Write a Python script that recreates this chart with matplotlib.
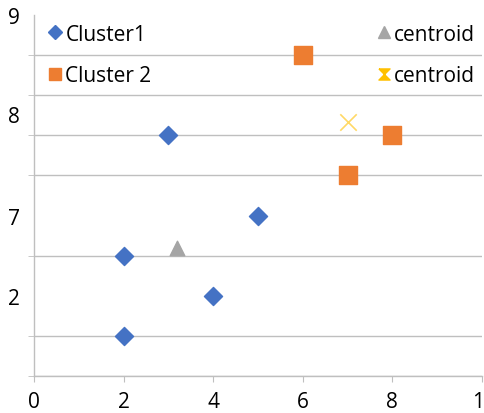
import matplotlib.pyplot as plt
from matplotlib.lines import Line2D
from matplotlib.transforms import ScaledTranslation

# ----------------------------
# Data
# ----------------------------
cluster1_x = [3, 5, 2, 4, 2]
cluster1_y = [6, 4, 3, 2, 1]

cluster2_x = [6, 8, 7]
cluster2_y = [8, 6, 5]

centroid1_x = [3.2]
centroid1_y = [3.2]
centroid2_x = [7]
centroid2_y = [6.33]

x_ticks = [0, 2, 4, 6, 8, 10]
x_labels = ['0', '2', '4', '6', '8', '1']
y_ticks = [2, 4, 6.53, 9]
y_labels = ['2', '7', '8', '9']
y_grid = list(range(0, 10))

# ----------------------------
# Style
# ----------------------------
plt.rcParams['font.family'] = ['Open Sans', 'DejaVu Sans']

blue = '#4472C4'
orange = '#ED7D31'
gray = '#A5A5A5'
yellow = '#FFC000'
grid_col = '#BFBFBF'

fig = plt.figure(figsize=(4.84, 4.14), dpi=100)
ax = fig.add_axes([34 / 484, 37 / 414, 448 / 484, 361 / 414])

ax.scatter(cluster1_x, cluster1_y, marker='D', s=85, color=blue, zorder=3)
ax.scatter(cluster2_x, cluster2_y, marker='s', s=150, color=orange, zorder=3)
ax.scatter(centroid1_x, centroid1_y, marker='^', s=110, color=gray, zorder=3)
ax.scatter(centroid2_x, centroid2_y, marker='x', s=140, color=yellow,
           alpha=0.6, linewidths=1.2, zorder=3)

ax.set_xlim(0, 10)
ax.set_ylim(0, 9)

ax.set_xticks(x_ticks)
ax.set_xticklabels(x_labels, fontsize=15)
ax.set_yticks(y_ticks)
ax.set_yticklabels(y_labels, fontsize=15)
ax.set_yticks(y_grid, minor=True)

ax.tick_params(axis='x', length=4, color=grid_col, pad=6.5)
ax.tick_params(axis='y', which='major', length=0, pad=10)
ax.tick_params(axis='y', which='minor', length=4, color=grid_col)
ax.grid(axis='y', which='minor', color=grid_col, linewidth=1)

# last x label sits at the right edge, nudge it inwards a little
last = ax.get_xticklabels()[-1]
last.set_transform(last.get_transform() +
                   ScaledTranslation(-4 / 100, 0, fig.dpi_scale_trans))

for side in ['top', 'right']:
    ax.spines[side].set_visible(False)
for side in ['left', 'bottom']:
    ax.spines[side].set_color(grid_col)
    ax.spines[side].set_linewidth(1)

# ----------------------------
# Legend
# ----------------------------
hourglass = [(-1, 1), (1, 1), (-1, -1), (1, -1), (-1, 1)]
handles = [
    Line2D([], [], marker='D', color=blue, ls='', markersize=7),
    Line2D([], [], marker='s', color=orange, ls='', markersize=9),
    Line2D([], [], marker='^', color=gray, ls='', markersize=9),
    Line2D([], [], marker=hourglass, color=yellow, ls='', markersize=8),
]
labels = ['Cluster1', 'Cluster 2', 'centroid', 'centroid']
ax.legend(handles, labels, ncol=2, frameon=False, fontsize=15,
          loc='upper left', bbox_to_anchor=(-0.009, 1.028),
          handlelength=0.6, handletextpad=0.2, columnspacing=10.85,
          labelspacing=1.0)

fig.savefig('out.png', dpi=100)
